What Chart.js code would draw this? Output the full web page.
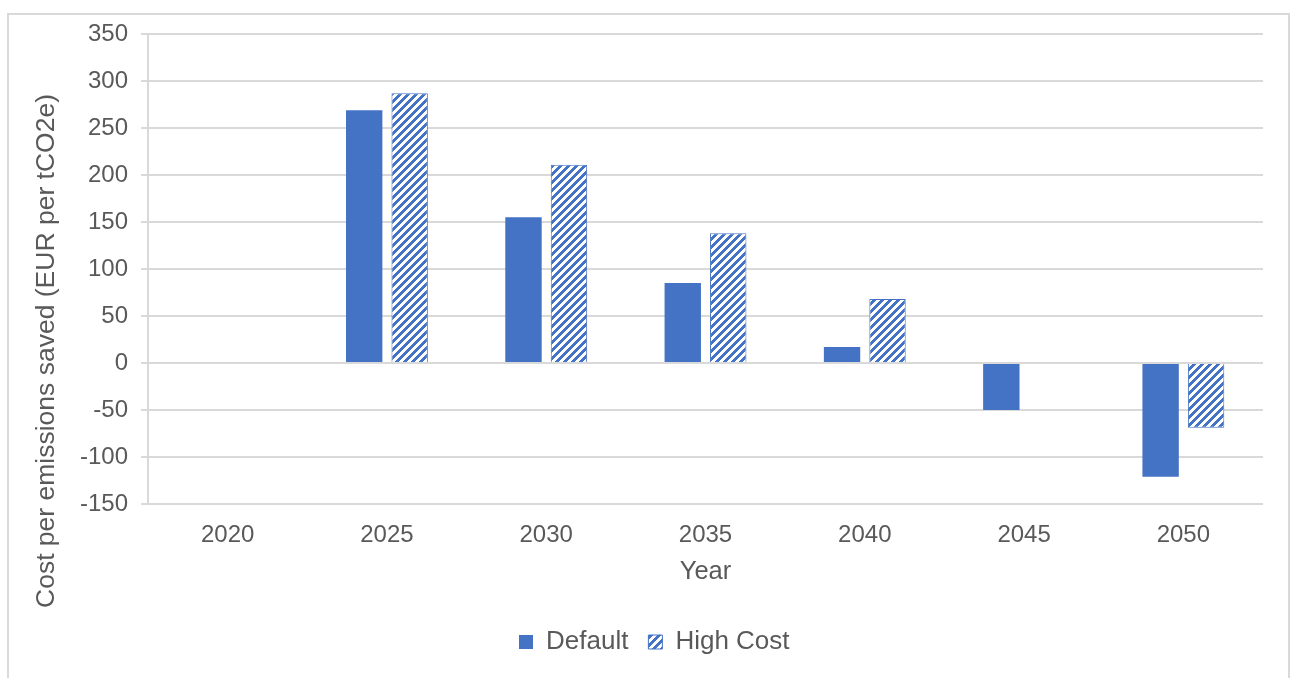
<!DOCTYPE html>
<html lang="en">
<head>
  <meta charset="UTF-8">
  <script src="https://cdn.jsdelivr.net/npm/chart.js"></script>
  <title>Cost per emissions saved</title>
  <style>
    body { margin: 0; background: #fff; }
    #frame { position: absolute; left: 7px; top: 13px; width: 1283px; height: 700px; border: 2px solid #d9d9d9; box-sizing: border-box; }
    #wrap { position: absolute; left: 0; top: 0; width: 1293px; height: 678px; }
  </style>
</head>
<body>
  <div id="frame"></div>
  <div id="wrap"><canvas id="chart"></canvas></div>
  <script>
    const years = ['2020', '2025', '2030', '2035', '2040', '2045', '2050'];
    const defaultCost = [null, 269, 155, 85, 17, -50, -121];
    const highCost = [null, 287, 211, 138, 68, -1, -69];
    const yTicks = [350, 300, 250, 200, 150, 100, 50, 0, -50, -100, -150];

    const blue = '#4472c4';
    const grey = '#595959';
    const gridGrey = '#d9d9d9';
    const font = 'Liberation Sans, Arial, sans-serif';

    // upward diagonal hatch: blue with white stripes
    function hatch() {
      const s = 8;
      const c = document.createElement('canvas');
      c.width = s; c.height = s;
      const g = c.getContext('2d');
      const img = g.createImageData(s, s);
      for (let y = 0; y < s; y++) {
        for (let x = 0; x < s; x++) {
          const white = ((x + y) % s) < s / 2;
          const i = (y * s + x) * 4;
          img.data[i] = white ? 255 : 0x44;
          img.data[i + 1] = white ? 255 : 0x72;
          img.data[i + 2] = white ? 255 : 0xc4;
          img.data[i + 3] = 255;
        }
      }
      g.putImageData(img, 0, 0);
      return g.createPattern(c, 'repeat');
    }
    const ctx = document.getElementById('chart').getContext('2d');
    const stripes = hatch();

    // rotated y-axis title, centred on the chart's full height
    const yTitle = {
      id: 'yTitle',
      afterDraw(chart) {
        const c = chart.ctx;
        c.save();
        c.translate(47, 351);
        c.rotate(-Math.PI / 2);
        c.font = '26.5px ' + font;
        c.fillStyle = grey;
        c.textAlign = 'center';
        c.textBaseline = 'middle';
        c.fillText('Cost per emissions saved (EUR per tCO2e)', 0, 0);
        c.restore();
      }
    };

    // legend starts a little right of the canvas centre line
    const legendShift = {
      id: 'legendShift',
      afterLayout(chart) {
        chart.legend.left = 499;
      }
    };

    new Chart(ctx, {
      type: 'bar',
      data: {
        labels: years,
        datasets: [{
          label: 'Default',
          data: defaultCost,
          backgroundColor: blue,
          borderWidth: 0,
          categoryPercentage: 0.571,
          barPercentage: 0.8
        }, {
          label: 'High Cost',
          data: highCost,
          backgroundColor: stripes,
          borderColor: blue,
          borderWidth: 1,
          categoryPercentage: 0.571,
          barPercentage: 0.8
        }]
      },
      options: {
        responsive: true,
        maintainAspectRatio: false,
        animation: false,
        layout: { padding: { left: 0, right: 30, top: 34, bottom: 13 } },
        plugins: {
          tooltip: { enabled: false },
          legend: {
            position: 'bottom',
            align: 'start',
            labels: {
              color: grey,
              font: { family: font, size: 26 },
              boxWidth: 14,
              boxHeight: 14,
              padding: 20
            }
          }
        },
        scales: {
          x: {
            grid: { display: false, drawTicks: false },
            border: { display: false },
            ticks: { color: grey, font: { family: font, size: 24 }, padding: 17 },
            title: {
              display: true,
              text: 'Year',
              color: grey,
              font: { family: font, size: 25.5 },
              padding: { top: 0, bottom: 22 }
            },
            afterFit(scale) { scale.height = 105; }
          },
          y: {
            min: -150,
            max: 350,
            afterBuildTicks(scale) { scale.ticks = yTicks.map(v => ({ value: v })); },
            grid: { color: gridGrey, lineWidth: 2, tickLength: 7 },
            border: { color: gridGrey, width: 2 },
            ticks: { color: grey, font: { family: font, size: 24 }, padding: 13 },
            afterFit(scale) { scale.width = 148; }
          }
        }
      },
      plugins: [yTitle, legendShift]
    });
  </script>
</body>
</html>
